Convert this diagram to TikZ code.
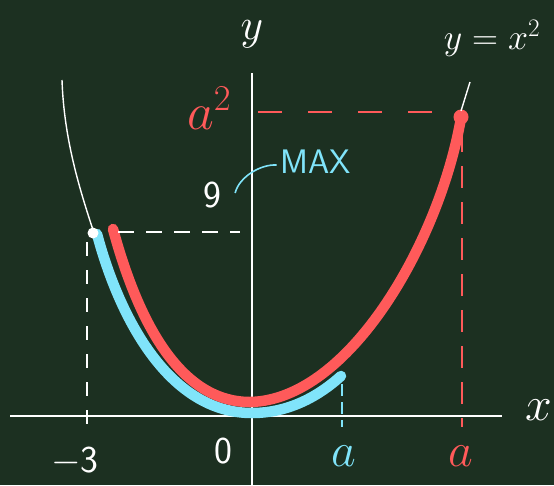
\documentclass[tikz,border=0pt]{standalone}
\usepackage{fix-cm}
\usepackage{amsmath}
\usepackage{amssymb}
\usetikzlibrary{calc}
\definecolor{board}{RGB}{28,48,33}
\definecolor{chalkred}{RGB}{255,90,90}
\definecolor{chalkblue}{RGB}{128,228,250}

\begin{document}
\begin{tikzpicture}[x=1pt, y=-1pt,
                    axis/.style={white, line width=1.6pt},
                    guide/.style={line width=1.6pt, dash pattern=on 16pt off 12pt},
                    curve/.style={line width=10.5pt, line cap=round, line join=round},
                    lbl/.style={inner sep=0pt, font=\fontsize{48}{48}\selectfont},
                    num/.style={inner sep=0pt, white, font=\sffamily\fontsize{38}{38}\selectfont}
                ]
                \fill[board] (0,0) rectangle (554,485);
                % axes
                \coordinate (xl) at (10,416);
                \coordinate (xr) at (502,416);
                \coordinate (yt) at (252,73);
                \coordinate (yb) at (252,485);
                \draw[axis] (xl) -- (xr);
                \draw[axis] (yt) -- (yb);
                \node[lbl, white] (xlab) at (539,410) {$x$};
                \node[lbl, white, font=\fontsize{44}{44}\selectfont] (ylab) at (252,34) {$y$};
                \node[lbl, white, font=\fontsize{36}{36}\selectfont] (eq) at (492,38) {$y=x^2$};
                % curves
                \draw[white, line width=1.4pt] (62,80) .. controls (64,140) and (80,190) .. (93,230);
                \draw[chalkblue, curve] (97,234) .. controls (120,320) and (170,413) .. (252,413)
                    .. controls (290,413) and (320,395) .. (341,376);
                \draw[chalkred, curve] (113,229) .. controls (135,310) and (175,402) .. (250,402)
                    .. controls (350,400) and (440,240) .. (461,118);
                \coordinate (P) at (93,233);
                \coordinate (Q) at (461,117);
                \fill[white] (P) circle (5.5);
                \fill[chalkred] (Q) circle (7.5);
                \coordinate (tk) at (470,82);
                \draw[white, line width=1.4pt] (tk) -- ($(Q)+(0,-6)$);
                % guides
                \coordinate (p1) at (118,232);
                \coordinate (p2) at (240,232);
                \coordinate (p3) at (87,242);
                \coordinate (p4) at (87,424);
                \draw[white, guide] (p1) -- (p2);
                \draw[white, guide, dash pattern=on 14pt off 14pt] (p3) -- (p4);
                \coordinate (q1) at (258,112);
                \coordinate (q2) at (452,112);
                \coordinate (q3) at (462,130);
                \coordinate (q4) at (462,427);
                \draw[chalkred, guide, dash pattern=on 24pt off 26pt] (q1) -- (q2);
                \draw[chalkred, guide, dash pattern=on 22pt off 14pt] (q3) -- (q4);
                \coordinate (r1) at (342,384);
                \coordinate (r2) at (342,427);
                \draw[chalkblue, guide, dash pattern=on 12pt off 6pt] (r1) -- (r2);
                % labels
                \node[num] (m3) at (75,461) {$-$3};
                \node[num] (zero) at (223,451) {0};
                \node[lbl, chalkblue] (ablue) at (344,456) {$a$};
                \node[lbl, chalkred] (ared) at (461,456) {$a$};
                \node[lbl, chalkred, font=\fontsize{52}{52}\selectfont] (asq) at (209,108) {$a^2$};
                \node[num] (nine) at (212,195) {9};
                \node[lbl, chalkblue, font=\sffamily\fontsize{34}{34}\selectfont] (max) at (316,162) {MAX};
                \draw[chalkblue, line width=1.6pt] ($(nine.east)+(14,-2)$) .. controls ($(nine.east)+(18,-18)$) and ($(max.west)+(-20,2)$) .. ($(max.west)+(-4,3)$);
\end{tikzpicture}
\end{document}
